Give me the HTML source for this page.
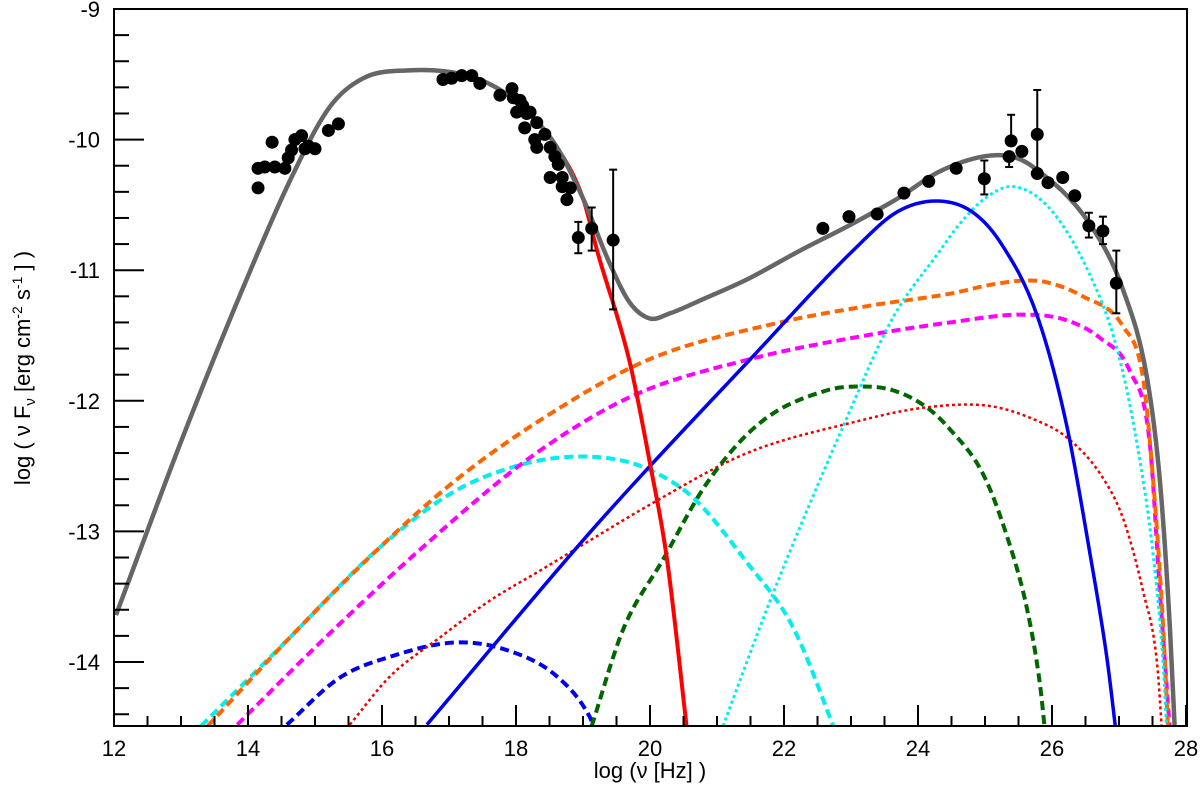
<!DOCTYPE html>
<html><head><meta charset="utf-8"><style>
body{margin:0;background:#fff;}
svg{display:block;font-family:"Liberation Sans",sans-serif;}
</style></head><body>
<svg id="c" width="1200" height="789" xmlns="http://www.w3.org/2000/svg">
<defs><clipPath id="clip"><rect x="114" y="9" width="1073" height="717"/></clipPath></defs>
<g id="curves" clip-path="url(#clip)"></g>
<g id="pts"></g>
<g id="axes"></g>
<text x="650" y="778" font-size="22" text-anchor="middle">log (ν [Hz] )</text>
<text transform="translate(30,368) rotate(-90)" font-size="22" text-anchor="middle">log ( ν F<tspan font-size="15" dy="5">ν</tspan><tspan dy="-5"> [erg cm</tspan><tspan font-size="14" dy="-8">-2</tspan><tspan dy="8"> s</tspan><tspan font-size="14" dy="-8">-1</tspan><tspan dy="8"> ] )</tspan></text>
</svg>
<script>
const xTicks=[12,14,16,18,20,22,24,26,28];
const yTicks=[-9,-10,-11,-12,-13,-14];
const grey=[[12.03,-13.64],[13.01,-12.30],[13.93,-11.13],[14.63,-10.31],[15.22,-9.75],[15.72,-9.53],[16.4,-9.47],[17.2,-9.5],[17.7,-9.6],[18.2,-9.8],[18.6,-10.05],[19.0,-10.45],[19.4,-10.95],[19.7,-11.25],[20,-11.37],[20.3,-11.33],[20.8,-11.22],[21.45,-11.07],[22.24,-10.85],[23,-10.65],[23.7,-10.45],[24.3,-10.25],[24.97,-10.13],[25.4,-10.13],[25.72,-10.21],[26.57,-10.65],[27.06,-11.15],[27.42,-11.83],[27.61,-12.61],[27.76,-13.74],[27.84,-14.6]];
const redSolid=[[12.03,-13.64],[13.01,-12.30],[13.93,-11.13],[14.63,-10.31],[15.22,-9.75],[15.72,-9.53],[16.4,-9.47],[17.2,-9.5],[17.7,-9.6],[18.2,-9.8],[18.6,-10.05],[19.0,-10.45],[19.21,-10.85],[19.7,-11.71],[20,-12.48],[20.25,-13.2],[20.57,-14.6]];
const blueSolid=[[16.67,-14.48],[19.1,-13.01],[20,-12.5],[21.5,-11.68],[23.03,-10.85],[23.7,-10.55],[24.3,-10.47],[24.8,-10.55],[25.22,-10.78],[25.78,-11.35],[26.22,-12.19],[26.57,-13.18],[26.82,-13.97],[26.97,-14.6]];
const cyanDot=[[21.09,-14.49],[21.84,-13.47],[22.88,-12.2],[23.63,-11.36],[24.33,-10.85],[24.6,-10.66],[25.0,-10.45],[25.42,-10.36],[25.97,-10.53],[26.57,-11.04],[26.97,-11.6],[27.27,-12.33],[27.51,-13.18],[27.66,-14.02],[27.72,-14.6]];
const orange=[[13.4,-14.49],[14.63,-13.81],[15.93,-13.14],[17.12,-12.6],[18.51,-12.1],[20.0,-11.68],[21.94,-11.40],[23.3,-11.27],[24.48,-11.18],[25.1,-11.11],[25.57,-11.08],[25.9,-11.09],[26.46,-11.2],[27.06,-11.43],[27.36,-11.83],[27.51,-12.61],[27.66,-13.74],[27.74,-14.6]];
const magenta=[[13.84,-14.48],[15.12,-13.83],[16.61,-13.12],[18.25,-12.42],[19.75,-11.96],[21.5,-11.68],[23,-11.52],[24.48,-11.4],[25.57,-11.34],[26.2,-11.38],[26.72,-11.52],[27.16,-11.77],[27.46,-12.33],[27.61,-13.46],[27.77,-14.6]];
const cyanDash=[[13.3,-14.49],[14.63,-13.81],[15.93,-13.14],[17.06,-12.7],[18.0,-12.5],[18.76,-12.43],[19.51,-12.45],[20.0,-12.53],[20.64,-12.74],[21.45,-13.24],[22.13,-13.73],[22.82,-14.6]];
const redDot=[[15.52,-14.48],[16.12,-14.11],[16.87,-13.81],[17.61,-13.53],[18.36,-13.3],[19.1,-13.07],[20.05,-12.78],[21.45,-12.4],[22.99,-12.17],[24.13,-12.05],[25.07,-12.04],[25.72,-12.14],[26.22,-12.28],[26.72,-12.56],[27.06,-12.9],[27.36,-13.46],[27.57,-14.02],[27.65,-14.6]];
const greenDash=[[19.13,-14.49],[19.6,-13.75],[20.19,-13.22],[20.85,-12.63],[21.64,-12.17],[22.64,-11.92],[23.13,-11.89],[23.63,-11.92],[24.13,-12.05],[24.48,-12.22],[24.97,-12.56],[25.33,-13.04],[25.63,-13.6],[25.82,-14.17],[25.91,-14.6]];
const blueDash=[[14.58,-14.48],[15.37,-14.12],[16.12,-13.96],[17.12,-13.85],[17.87,-13.91],[18.61,-14.11],[19.1,-14.42],[19.2,-14.55]];
const ptX=[14.15,14.15,14.25,14.4,14.36,14.55,14.6,14.65,14.7,14.8,14.85,14.9,15.0,15.2,15.35,
16.91,17.04,17.19,17.34,17.46,17.76,17.94,17.96,18.06,18.1,18.01,18.16,18.21,18.13,18.31,18.28,18.31,18.43,18.51,18.58,18.63,18.51,18.69,18.69,18.81,18.76,18.93,19.13,19.45,
22.58,22.97,23.39,23.79,24.16,24.57,24.99,25.39,25.36,25.55,25.78,25.78,25.94,26.16,26.34,26.55,26.76,26.96];
const ptY=[-10.37,-10.22,-10.21,-10.21,-10.02,-10.22,-10.14,-10.08,-10.0,-9.97,-10.07,-10.05,-10.07,-9.93,-9.88,
-9.54,-9.53,-9.51,-9.51,-9.57,-9.66,-9.61,-9.68,-9.7,-9.74,-9.79,-9.8,-9.79,-9.91,-9.87,-10.0,-10.06,-9.96,-10.06,-10.13,-10.19,-10.29,-10.29,-10.36,-10.37,-10.46,-10.75,-10.68,-10.77,
-10.68,-10.59,-10.57,-10.41,-10.32,-10.22,-10.3,-10.01,-10.13,-10.09,-9.96,-10.26,-10.33,-10.29,-10.43,-10.66,-10.7,-11.1];
const errX=[18.93,19.13,19.45,24.99,25.39,25.36,25.78,26.55,26.76,26.96];
const errLo=[-10.87,-10.85,-11.30,-10.42,-10.01,-10.21,-10.26,-10.75,-10.80,-11.33];
const errHi=[-10.63,-10.52,-10.23,-10.16,-9.81,-10.13,-9.62,-10.56,-10.59,-10.85];

const X=v=>114+(v-12)*67;
const Y=v=>9+(-9-v)*130.6;
const NS='http://www.w3.org/2000/svg';
function mk(t,parent){const e=document.createElementNS(NS,t);parent.appendChild(e);return e;}
function pathD(pts){
  const n=pts.length,m=[];
  for(let i=0;i<n;i++){
    const s1=i>0?(pts[i][1]-pts[i-1][1])/(pts[i][0]-pts[i-1][0]):null;
    const s2=i<n-1?(pts[i+1][1]-pts[i][1])/(pts[i+1][0]-pts[i][0]):null;
    m.push(s1===null?s2:s2===null?s1:(s1+s2)/2);
  }
  let d='M'+X(pts[0][0])+','+Y(pts[0][1]);
  for(let i=0;i<n-1;i++){
    const h=pts[i+1][0]-pts[i][0];
    const c1=[X(pts[i][0]+h/3),Y(pts[i][1]+m[i]*h/3)];
    const c2=[X(pts[i+1][0]-h/3),Y(pts[i+1][1]-m[i+1]*h/3)];
    d+=' C'+c1+' '+c2+' '+X(pts[i+1][0])+','+Y(pts[i+1][1]);
  }
  return d;
}
const cg=document.getElementById('curves');
function curve(pts,color,w,dash,name){
  const e=mk('path',cg);
  e.setAttribute('d',pathD(pts));e.setAttribute('fill','none');
  e.setAttribute('stroke',color);e.setAttribute('stroke-width',w);
  if(dash)e.setAttribute('stroke-dasharray',dash);
  
  
}
curve(blueDash,'#0000ee',4,'9,5','blue-dashed-curve');
curve(cyanDash,'#00eeee',4,'9,5','cyan-dashed-curve');
curve(redDot,'#ee0000',2.5,'3,3','red-dotted-curve');
curve(magenta,'#ff00ff',4,'9,5','magenta-dashed-curve');
curve(orange,'#ff6600',4,'9,5','orange-dashed-curve');
curve(greenDash,'#006600',4,'9,5','green-dashed-curve');
curve(cyanDot,'#00eeee',3,'3,3','cyan-dotted-curve');
curve(blueSolid,'#0000ee',3.5,null,'blue-solid-curve');
curve(redSolid,'#ff0000',4,null,'red-solid-curve');
curve(grey,'#666666',4.5,null,'total-model-curve');

const pg=document.getElementById('pts');
for(let i=0;i<errX.length;i++){
  const x=X(errX[i]),y1=Y(errLo[i]),y2=Y(errHi[i]);
  const g=mk('g',pg);
  
  
  const l=mk('line',g);l.setAttribute('x1',x);l.setAttribute('x2',x);l.setAttribute('y1',y1);l.setAttribute('y2',y2);l.setAttribute('stroke','#000');l.setAttribute('stroke-width',2);
  [y1,y2].forEach(y=>{const c=mk('line',g);c.setAttribute('x1',x-4);c.setAttribute('x2',x+4);c.setAttribute('y1',y);c.setAttribute('y2',y);c.setAttribute('stroke','#000');c.setAttribute('stroke-width',2);});
}
for(let i=0;i<ptX.length;i++){
  const c=mk('circle',pg);
  c.setAttribute('cx',X(ptX[i]));c.setAttribute('cy',Y(ptY[i]));c.setAttribute('r',6.5);c.setAttribute('fill','#000');
  
  
}

const ag=document.getElementById('axes');
const fr=mk('rect',ag);fr.setAttribute('x',114);fr.setAttribute('y',9);fr.setAttribute('width',1073);fr.setAttribute('height',717);fr.setAttribute('fill','none');fr.setAttribute('stroke','#000');fr.setAttribute('stroke-width',2);


function tick(x1,y1,x2,y2){const l=mk('line',ag);l.setAttribute('x1',x1);l.setAttribute('y1',y1);l.setAttribute('x2',x2);l.setAttribute('y2',y2);l.setAttribute('stroke','#000');l.setAttribute('stroke-width',2);}
for(let v=12;v<=28.001;v+=0.5){const major=Math.abs(v-Math.round(v/2)*2)<1e-6;tick(X(v),726,X(v),726-(major?21:10));}
for(let k=0;k<=27;k++){const v=-9-k*0.2;if(v<-14.5)break;const major=k%5===0;tick(114,Y(v),114+(major?30:15),Y(v));}
xTicks.forEach(v=>{const t=mk('text',ag);t.setAttribute('x',X(v));t.setAttribute('y',756);t.setAttribute('font-size',22);t.setAttribute('text-anchor','middle');t.textContent=v;

});
yTicks.forEach(v=>{const t=mk('text',ag);t.setAttribute('x',100);t.setAttribute('y',Y(v)+8);t.setAttribute('font-size',22);t.setAttribute('text-anchor','end');t.textContent=v;

});
</script>
</body></html>
